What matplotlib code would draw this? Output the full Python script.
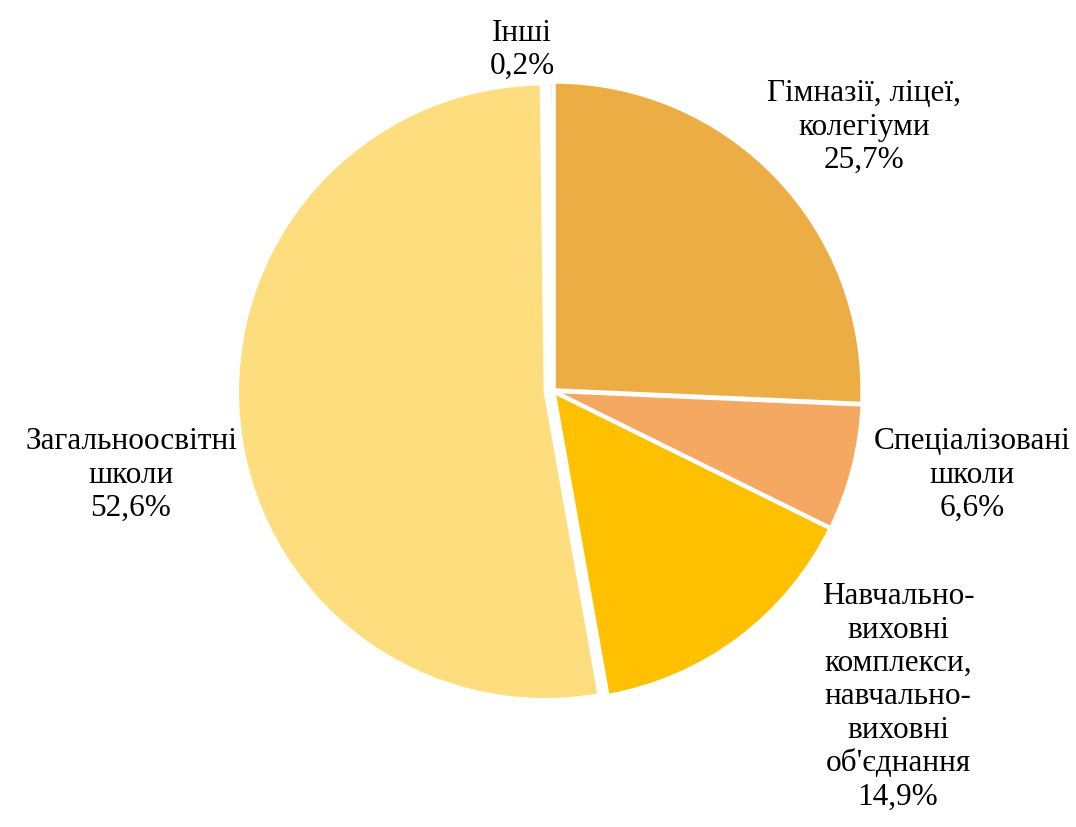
import matplotlib
matplotlib.use('Agg')
import matplotlib.pyplot as plt

# data
labels = ['Гімназії, ліцеї,\nколегіуми', 'Спеціалізовані\nшколи',
          'Навчально-\nвиховні\nкомплекси,\nнавчально-\nвиховні\nоб\'єднання',
          'Загальноосвітні\nшколи', 'Інші']
values = [25.7, 6.6, 14.9, 52.6, 0.2]
colors = ['#EDAD45', '#F4A862', '#FFC000', '#FEDD7E', '#E6B9B8']
explode = [0.005, 0.005, 0.005, 0.025, 0.005]

# label positions (data units, pie radius = 1)
label_pos = [(1.01, 0.86), (1.36, -0.27), (1.12, -0.99), (-1.37, -0.27), (-0.10, 1.11)]

plt.rcParams['font.family'] = ['Liberation Serif', 'DejaVu Serif']

fig = plt.figure(figsize=(10.76, 8.28), dpi=100)
ax = fig.add_axes([0, 0, 1, 1])

wedges, _ = ax.pie(values, colors=colors, startangle=90, counterclock=False,
                   explode=explode, radius=1.0,
                   wedgeprops={'edgecolor': 'white', 'linewidth': 2.5})

for lab, v, (x, y) in zip(labels, values, label_pos):
    txt = lab + '\n' + ('%.1f' % v).replace('.', ',') + '%'
    ax.text(x, y, txt, ha='center', va='center', multialignment='center',
            fontsize=22.5, color='black', linespacing=1.2)

# axis limits so pie centre sits at ~ (553, 392) px with radius ~308 px
r = 308.0
cx, cy = 553.0, 392.0
ax.set_xlim(-cx / r, (1076 - cx) / r)
ax.set_ylim(-(828 - cy) / r, cy / r)
ax.set_aspect('equal')
ax.axis('off')

fig.savefig('out.png', dpi=100)
